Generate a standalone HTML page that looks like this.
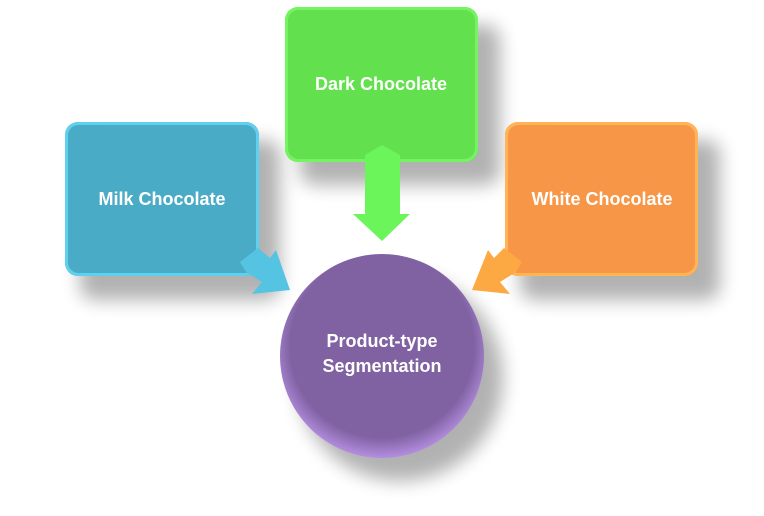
<!DOCTYPE html>
<html><head><style>body{margin:0;background:#fff}svg{display:block}</style></head><body>
<svg width="764" height="516" viewBox="0 0 764 516" xmlns="http://www.w3.org/2000/svg">
<defs>
<filter id="sh" x="-30%" y="-30%" width="170%" height="170%"><feGaussianBlur stdDeviation="9"/></filter>
<radialGradient id="cg" cx="50%" cy="45%" r="55%"><stop offset="0.82" stop-color="#8062a2"/><stop offset="1" stop-color="#b48ee0"/></radialGradient>
</defs>
<g fill="#000" opacity="0.3" filter="url(#sh)">
<rect x="80" y="140" width="200" height="160" rx="14"/>
<rect x="300" y="25" width="200" height="160" rx="14"/>
<rect x="520" y="140" width="200" height="160" rx="14"/>
<circle cx="400" cy="378" r="103"/>
</g>
<g font-family="Liberation Sans, sans-serif" font-weight="bold" fill="#fff" text-anchor="middle" font-size="18">
<rect x="65" y="122" width="194" height="154" rx="13" fill="#4aabc6"/>
<rect x="66.5" y="123.5" width="191" height="151" rx="12" fill="none" stroke="#5fd0ee" stroke-width="3"/>
<polygon points="240,262 258,248 270,258 276,250 290,290 252,294 262,282 246,272" fill="#55c4e2"/>
<text x="162" y="205">Milk Chocolate</text>

<rect x="285" y="7" width="193" height="155" rx="13" fill="#62e04e"/>
<rect x="286.5" y="8.5" width="190" height="152" rx="12" fill="none" stroke="#74f460" stroke-width="3"/>
<polygon points="365,155 382,145 400,155 400,214 410,214 382,241 353,214 365,214" fill="#6bf55a"/>
<text x="381" y="90">Dark Chocolate</text>

<rect x="505" y="122" width="193" height="154" rx="13" fill="#f79646"/>
<rect x="506.5" y="123.5" width="190" height="151" rx="12" fill="none" stroke="#ffb456" stroke-width="3"/>
<polygon points="522,262 504,248 494,258 488,250 472,290 510,294 500,282 516,272" fill="#fca843"/>
<text x="602" y="205">White Chocolate</text>

<circle cx="382" cy="356" r="102" fill="url(#cg)"/>
<text x="382" y="347">Product-type</text>
<text x="382" y="372">Segmentation</text>
</g>
</svg>
</body></html>
